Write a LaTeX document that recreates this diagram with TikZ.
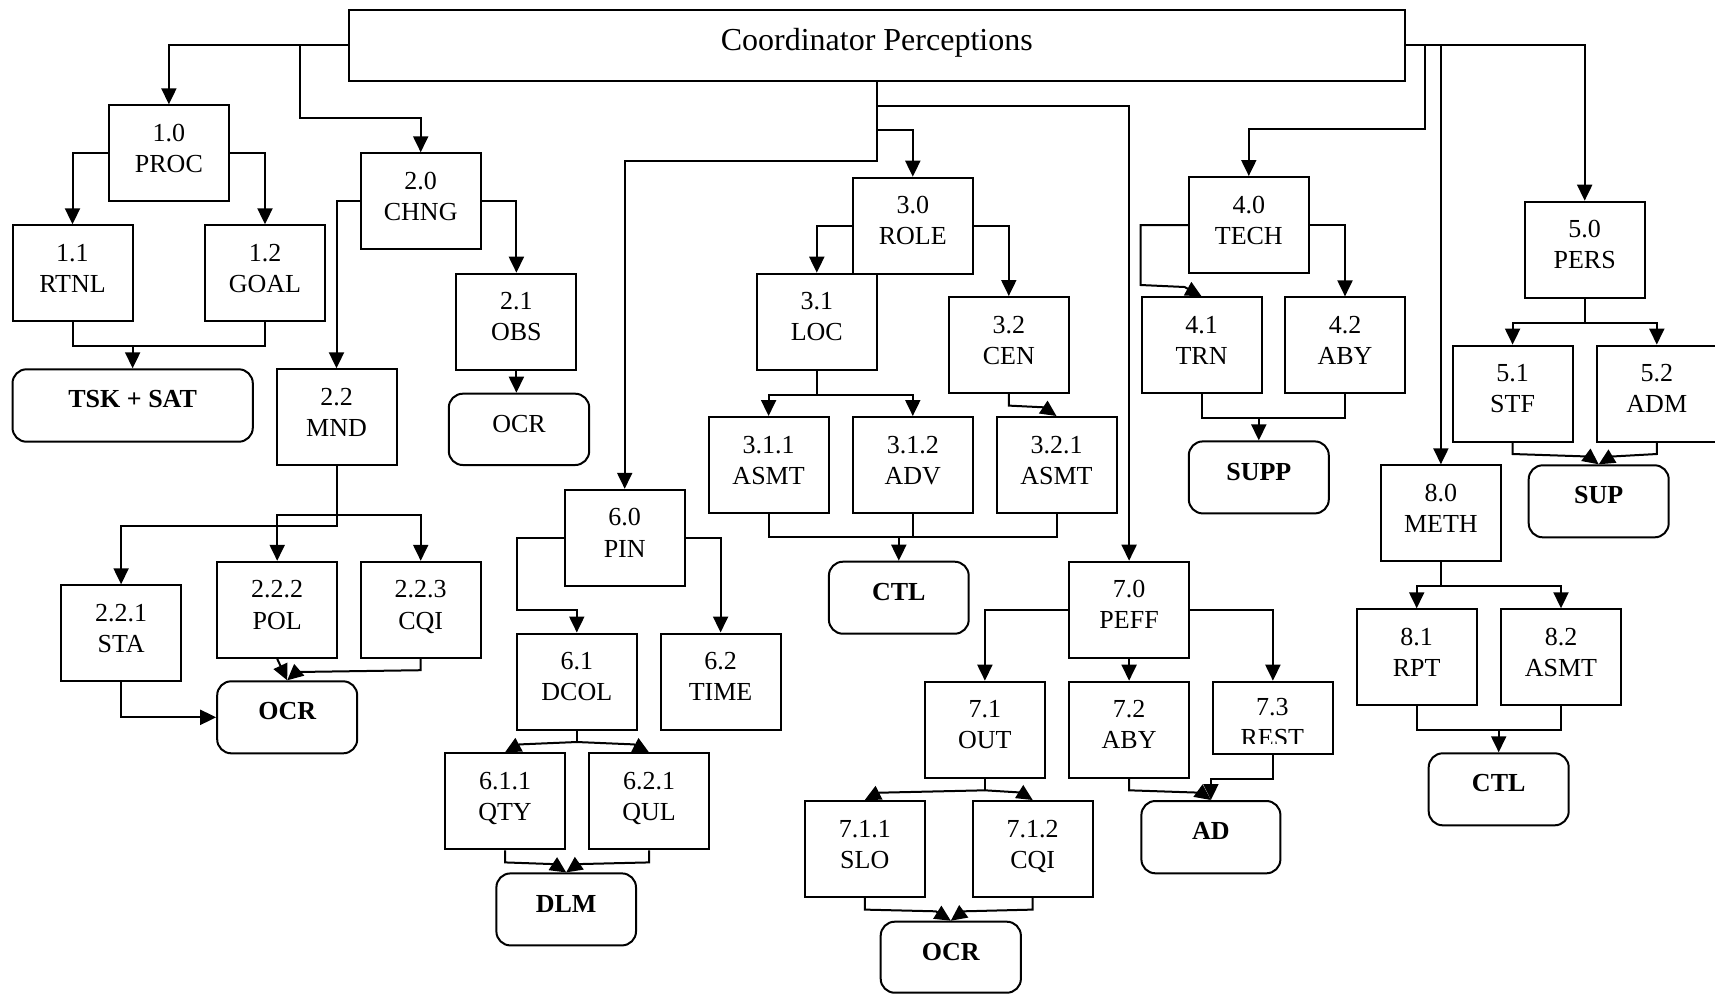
\documentclass[tikz,border=0pt]{standalone}
\usepackage{fontspec}
\setmainfont{Liberation Serif}
\usetikzlibrary{arrows.meta}
\newcommand{\nbx}[3]{\parbox[t][\dimexpr #2pt/2\relax][t]{\dimexpr #1pt/2\relax}{\fontsize{13}{15.6}\selectfont\centering\rule{0pt}{18pt}#3}}
\newcommand{\rbx}[3]{\parbox[t][\dimexpr #2pt/2\relax][t]{\dimexpr #1pt/2\relax}{\fontsize{13}{15.6}\selectfont\centering\rule{0pt}{19.3pt}#3}}
\tikzset{
  nb/.style={draw, line width=1pt, inner sep=0pt, anchor=north west},
  rb/.style={nb, rounded corners=7pt},
  ln/.style={line width=1pt},
  arr/.style={ln, -{Triangle[length=8pt,width=7.5pt]}},
}
\begin{document}
\begin{tikzpicture}[x=0.5pt,y=-0.5pt]
\useasboundingbox (0,0) rectangle (1715,993);
% title
\node[nb] (T) at (347.5,8.6) {\parbox[t][35.8pt][t]{528.25pt}{\centering\fontsize{16}{19}\selectfont\rule{0pt}{20.35pt}Coordinator Perceptions}};
% numbered boxes
\node[nb] (b10) at (107.9,104.3) {\nbx{120}{96}{1.0\\PROC}};
\node[nb] (b11) at (11.5,224.3) {\nbx{120}{96}{1.1\\RTNL}};
\node[nb] (b12) at (204,224.3) {\nbx{120}{96}{1.2\\GOAL}};
\node[nb] (b20) at (359.7,152.3) {\nbx{120}{96}{2.0\\CHNG}};
\node[nb] (b21) at (455.4,272.7) {\nbx{120}{96}{2.1\\OBS}};
\node[nb] (b22) at (275.5,368.3) {\nbx{120}{96}{2.2\\MND}};
\node[nb] (b221) at (60.1,584.3) {\nbx{120}{96}{2.2.1\\STA}};
\node[nb] (b222) at (216.2,560.8) {\nbx{120}{96}{2.2.2\\POL}};
\node[nb] (b223) at (359.7,560.8) {\nbx{120}{96}{2.2.3\\CQI}};
\node[nb] (b30) at (851.8,176.7) {\nbx{120}{96}{3.0\\ROLE}};
\node[nb] (b31) at (755.8,272.7) {\nbx{120}{96}{3.1\\LOC}};
\node[nb] (b32) at (947.8,296) {\nbx{120}{96}{3.2\\CEN}};
\node[nb] (b311) at (707.6,416) {\nbx{120}{96}{3.1.1\\ASMT}};
\node[nb] (b312) at (851.8,416) {\nbx{120}{96}{3.1.2\\ADV}};
\node[nb] (b321) at (995.5,416) {\nbx{120}{96}{3.2.1\\ASMT}};
\node[nb] (b40) at (1187.8,176) {\nbx{120}{96}{4.0\\TECH}};
\node[nb] (b41) at (1140.6,296.4) {\nbx{120}{96}{4.1\\TRN}};
\node[nb] (b42) at (1284,296.4) {\nbx{120}{96}{4.2\\ABY}};
\node[nb] (b50) at (1523.7,200.7) {\nbx{120}{96}{5.0\\PERS}};
\node[nb] (b51) at (1451.6,344.6) {\nbx{120}{96}{5.1\\STF}};
\node[nb] (b52) at (1595.8,344.6) {\nbx{120}{96}{5.2\\ADM}};
\node[nb] (b60) at (563.7,488.8) {\nbx{120}{96}{6.0\\PIN}};
\node[nb] (b61) at (515.8,632.5) {\nbx{120}{96}{6.1\\DCOL}};
\node[nb] (b62) at (659.6,632.5) {\nbx{120}{96}{6.2\\TIME}};
\node[nb] (b611) at (444,752.3) {\nbx{120}{96}{6.1.1\\QTY}};
\node[nb] (b621) at (588,752.3) {\nbx{120}{96}{6.2.1\\QUL}};
\node[nb] (b70) at (1068.1,560.7) {\nbx{120}{96}{7.0\\PEFF}};
\node[nb] (b71) at (923.9,680.7) {\nbx{120}{96}{7.1\\OUT}};
\node[nb] (b72) at (1068.1,680.7) {\nbx{120}{96}{7.2\\ABY}};
\node[nb] (b73) at (1211.9,680.7) {\parbox[t][36.3pt][t]{60pt}{\rule{0pt}{17pt}}};
\begin{scope}
  \clip (b73.north west) rectangle ([yshift=5.8pt]b73.south east);
  \node[anchor=north west, inner sep=0pt] (t73) at (b73.north west) {\parbox[t][36.3pt][t]{60pt}{\fontsize{13}{15.6}\selectfont\centering\rule{0pt}{17.2pt}7.3\\REST}};
\end{scope}
\node[nb] (b711) at (803.8,800) {\nbx{120}{96}{7.1.1\\SLO}};
\node[nb] (b712) at (971.7,800) {\nbx{120}{96}{7.1.2\\CQI}};
\node[nb] (b80) at (1379.9,464.3) {\nbx{120}{96}{8.0\\METH}};
\node[nb] (b81) at (1355.7,608.3) {\nbx{120}{96}{8.1\\RPT}};
\node[nb] (b82) at (1500,608.3) {\nbx{120}{96}{8.2\\ASMT}};
% rounded boxes
\node[rb] (tsk) at (11.5,368.3) {\rbx{240.3}{72.4}{\bfseries TSK + SAT}};
\node[rb] (ocr1) at (447.8,392.7) {\rbx{140.4}{71.3}{OCR}};
\node[rb] (ocr2) at (216.2,680.3) {\rbx{140}{72}{\bfseries OCR}};
\node[rb] (dlm) at (495.4,872.4) {\rbx{139.6}{72}{\bfseries DLM}};
\node[rb] (ctl1) at (827.9,560.7) {\rbx{139.8}{72}{\bfseries CTL}};
\node[rb] (ocr3) at (879.7,920.7) {\rbx{140.2}{71}{\bfseries OCR}};
\node[rb] (ad) at (1140.4,800) {\rbx{139}{72.3}{\bfseries AD}};
\node[rb] (supp) at (1187.8,440.4) {\rbx{140}{72}{\bfseries SUPP}};
\node[rb] (sup) at (1527.7,464.3) {\rbx{140}{72}{\bfseries SUP}};
\node[rb] (ctl2) at (1427.7,752.3) {\rbx{140}{72}{\bfseries CTL}};
% connectors: branch 1
\draw[arr] (T.west) -| (b10.north);
\draw[arr] (T.west) ++(-47.8,0) -- ++(0,72.3) -| (b20.north);
\draw[arr] (b10.west) -| (b11.north);
\draw[arr] (b10.east) -| (b12.north);
\draw[ln] (b11.south) -- ++(0,23.3) coordinate (m1) -| (b12.south);
\draw[arr] (m1 -| tsk.north) -- (tsk.north);
% branch 2
\draw[arr] (b20.west) -| (b22.north);
\draw[arr] (b20.east) -| (b21.north);
\draw[arr] (b21.south) -- (b21.south |- ocr1.north);
\draw[arr] (b22.south) -- ++(0,60.1) -| (b221.north);
\draw[ln] (b22.south) -- ++(0,48.3) coordinate (m22);
\draw[arr] (m22) -| (b222.north);
\draw[arr] (m22) -| (b223.north);
\draw[arr] (b221.south) |- (ocr2.west);
\draw[arr] (b222.south) -- (ocr2.north);
\draw[arr] (b223.south) -- ++(0,11.4) -- ++(-124,1.8) -- (ocr2.north);
% centre trunk
\draw[arr] (T.south) -- ++(0,78.8) -| (b60.north);
\draw[arr] (T.south) ++(0,47.5) -| (b30.north);
\draw[arr] (T.south) ++(0,24.1) -| (b70.north);
% branch 3
\draw[arr] (b30.west) -| (b31.north);
\draw[arr] (b30.east) -| (b32.north);
\draw[ln] (b31.south) -- ++(0,24) coordinate (m31);
\draw[arr] (m31) -| (b311.north);
\draw[arr] (m31) -| (b312.north);
\draw[arr] (b32.south) -- ++(0,11.6) -- ++(34.8,1.7) -- (b321.north);
\draw[ln] (b311.south) -- ++(0,23.3) coordinate (m3b) -| (b321.south);
\draw[ln] (b312.south) -- (b312.south |- m3b);
\draw[arr] (m3b -| ctl1.north) -- (ctl1.north);
% branch 6
\draw[arr] (b60.west) -- ++(-47,0) -- ++(0,71.7) -| (b61.north);
\draw[arr] (b60.east) -| (b62.north);
\draw[ln] (b61.south) -- ++(0,11.5) coordinate (m61);
\draw[arr] (m61) -- ++(-57.2,2.4) -- (b611.north);
\draw[arr] (m61) -- ++(57.2,2.4) -- (b621.north);
\draw[arr] (b611.south) -- ++(0,12.1) -- ++(48.5,1.7) -- (dlm.north);
\draw[arr] (b621.south) -- ++(0,12.1) -- ++(-71,1.7) -- (dlm.north);
% branch 7
\draw[arr] (b70.west) -| (b71.north);
\draw[arr] (b70.south) -- (b72.north);
\draw[arr] (b70.east) -| (b73.north);
\draw[ln] (b71.south) -- ++(0,11.6) coordinate (m71);
\draw[arr] (m71) -- ++(-105.8,2.4) -- (b711.north);
\draw[arr] (m71) -- ++(35.8,2.2) -- (b712.north);
\draw[arr] (b711.south) -- ++(0,11.6) -- ++(71,1.7) -- (ocr3.north);
\draw[arr] (b712.south) -- ++(0,11.6) -- ++(-69,1.7) -- (ocr3.north);
\draw[arr] (b72.south) -- ++(0,11.6) -- ++(71.8,2.4) -- (ad.north);
\draw[arr] (b73.south) -- ++(0,23.4) -| (ad.north);
% right side
\draw[arr] (T.east) -| (b50.north);
\draw[arr] (T.east) ++(18.8,0) -- ++(0,83.5) -| (b40.north);
\draw[arr] (T.east -| b80.north) -- (b80.north);
% branch 4
\draw[arr] (b40.east) -| (b42.north);
\draw[arr] (b40.west) -| ([yshift=5.7pt]b41.north west) -- ++(44,2) -- (b41.north);
\draw[ln] (b41.south) -- ++(0,23.9) coordinate (m4) -| (b42.south);
\draw[arr] (m4 -| supp.north) -- (supp.north);
% branch 5
\draw[ln] (b50.south) -- ++(0,24.3) coordinate (m5);
\draw[arr] (m5) -| (b51.north);
\draw[arr] (m5) -| (b52.north);
\draw[arr] (b51.south) -- ++(0,11.4) -- ++(75.6,2.5) -- (sup.north);
\draw[arr] (b52.south) -- ++(0,11.4) -- ++(-45,2.5) -- (sup.north);
% branch 8
\draw[ln] (b80.south) -- ++(0,23.6) coordinate (m8);
\draw[arr] (m8) -| (b81.north);
\draw[arr] (m8) -| (b82.north);
\draw[ln] (b81.south) -- ++(0,24) coordinate (m8b) -| (b82.south);
\draw[arr] (m8b -| ctl2.north) -- (ctl2.north);
\end{tikzpicture}
\end{document}
